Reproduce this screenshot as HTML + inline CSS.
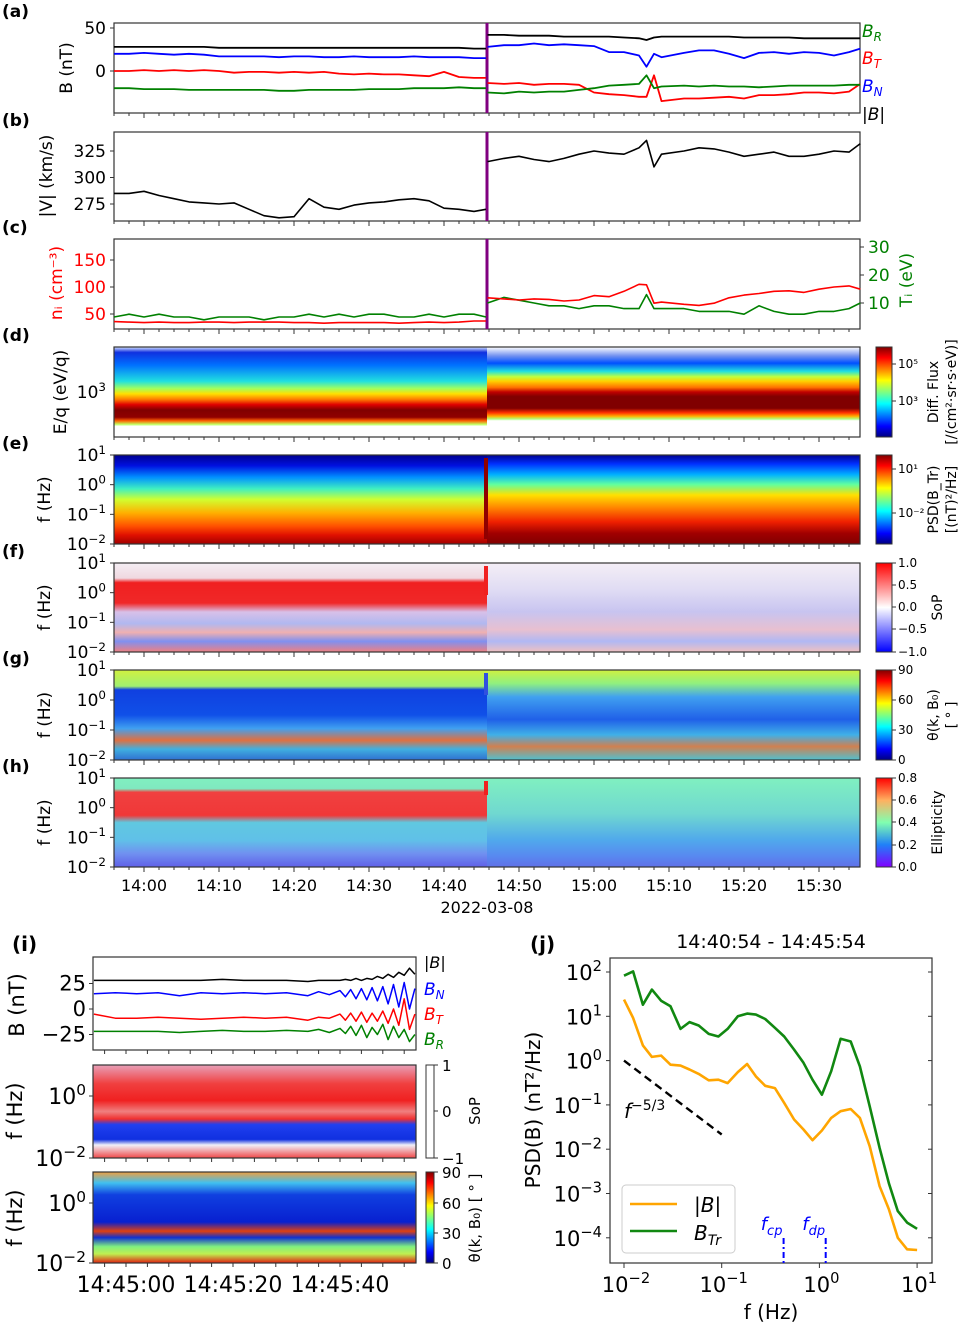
<!DOCTYPE html>
<html><head><meta charset="utf-8">
<style>
html,body{margin:0;padding:0;background:#fff;}
svg{display:block;font-family:"DejaVu Sans","Liberation Sans",sans-serif;}
</style></head>
<body>
<svg id="fig" width="968" height="1325" viewBox="0 0 968 1325" xmlns="http://www.w3.org/2000/svg">
<defs>
<linearGradient id="gDpre" x1="0" y1="0" x2="0" y2="1">
<stop offset="0" stop-color="#d8e4ff"/><stop offset="0.06" stop-color="#1030e0"/><stop offset="0.2" stop-color="#0070ff"/><stop offset="0.38" stop-color="#20e0e0"/><stop offset="0.46" stop-color="#a0ff60"/><stop offset="0.52" stop-color="#ffe000"/><stop offset="0.58" stop-color="#ff8000"/><stop offset="0.64" stop-color="#e00000"/><stop offset="0.7" stop-color="#800000"/><stop offset="0.78" stop-color="#900000"/><stop offset="0.82" stop-color="#ff6000"/><stop offset="0.86" stop-color="#c0ff60"/><stop offset="0.88" stop-color="#ffffff"/><stop offset="1" stop-color="#ffffff"/>
</linearGradient>
<linearGradient id="gDpost" x1="0" y1="0" x2="0" y2="1">
<stop offset="0" stop-color="#ffffff"/><stop offset="0.1" stop-color="#7090f0"/><stop offset="0.18" stop-color="#0050ff"/><stop offset="0.27" stop-color="#20e0e0"/><stop offset="0.33" stop-color="#c0ff40"/><stop offset="0.38" stop-color="#ffd000"/><stop offset="0.45" stop-color="#ff7000"/><stop offset="0.5" stop-color="#c00000"/><stop offset="0.55" stop-color="#800000"/><stop offset="0.68" stop-color="#800000"/><stop offset="0.73" stop-color="#ff3000"/><stop offset="0.77" stop-color="#ffb000"/><stop offset="0.8" stop-color="#b0ff80"/><stop offset="0.82" stop-color="#ffffff"/><stop offset="1" stop-color="#ffffff"/>
</linearGradient>
<linearGradient id="gEpre" x1="0" y1="0" x2="0" y2="1">
<stop offset="0" stop-color="#000090"/><stop offset="0.12" stop-color="#0010e0"/><stop offset="0.25" stop-color="#0090ff"/><stop offset="0.38" stop-color="#40f0c0"/><stop offset="0.5" stop-color="#d0ff30"/><stop offset="0.65" stop-color="#ffb000"/><stop offset="0.8" stop-color="#ff5000"/><stop offset="0.9" stop-color="#e01000"/><stop offset="1" stop-color="#a00000"/>
</linearGradient>
<linearGradient id="gEpost" x1="0" y1="0" x2="0" y2="1">
<stop offset="0" stop-color="#000090"/><stop offset="0.1" stop-color="#0030ff"/><stop offset="0.22" stop-color="#00b0ff"/><stop offset="0.33" stop-color="#60ffa0"/><stop offset="0.45" stop-color="#ffe000"/><stop offset="0.6" stop-color="#ff8000"/><stop offset="0.75" stop-color="#f02000"/><stop offset="0.88" stop-color="#a00000"/><stop offset="1" stop-color="#800000"/>
</linearGradient>
<linearGradient id="gFpre" x1="0" y1="0" x2="0" y2="1">
<stop offset="0" stop-color="#f4eef4"/><stop offset="0.17" stop-color="#f0d8e0"/><stop offset="0.22" stop-color="#f02020"/><stop offset="0.45" stop-color="#f02828"/><stop offset="0.55" stop-color="#d8c0e8"/><stop offset="0.68" stop-color="#b0b8f0"/><stop offset="0.78" stop-color="#f0b0b0"/><stop offset="0.88" stop-color="#8090f0"/><stop offset="1" stop-color="#f08080"/>
</linearGradient>
<linearGradient id="gFpost" x1="0" y1="0" x2="0" y2="1">
<stop offset="0" stop-color="#f4eef6"/><stop offset="0.3" stop-color="#e0dcf4"/><stop offset="0.55" stop-color="#c8c4f0"/><stop offset="0.75" stop-color="#e8c0d0"/><stop offset="0.88" stop-color="#b0b8f4"/><stop offset="1" stop-color="#f0c0c0"/>
</linearGradient>
<linearGradient id="gGpre" x1="0" y1="0" x2="0" y2="1">
<stop offset="0" stop-color="#d0f040"/><stop offset="0.18" stop-color="#a0f070"/><stop offset="0.22" stop-color="#1040e0"/><stop offset="0.5" stop-color="#1050e8"/><stop offset="0.65" stop-color="#40a0f0"/><stop offset="0.78" stop-color="#e07040"/><stop offset="0.88" stop-color="#40b0e0"/><stop offset="1" stop-color="#3070d0"/>
</linearGradient>
<linearGradient id="gGpost" x1="0" y1="0" x2="0" y2="1">
<stop offset="0" stop-color="#d0f040"/><stop offset="0.15" stop-color="#90f080"/><stop offset="0.3" stop-color="#40a0f0"/><stop offset="0.55" stop-color="#2060e8"/><stop offset="0.72" stop-color="#40b0e8"/><stop offset="0.85" stop-color="#d08050"/><stop offset="1" stop-color="#50c0d0"/>
</linearGradient>
<linearGradient id="gHpre" x1="0" y1="0" x2="0" y2="1">
<stop offset="0" stop-color="#80f0c0"/><stop offset="0.12" stop-color="#80e8c0"/><stop offset="0.16" stop-color="#f04040"/><stop offset="0.42" stop-color="#f03838"/><stop offset="0.5" stop-color="#60c8e0"/><stop offset="0.7" stop-color="#60c0e8"/><stop offset="0.85" stop-color="#7090f0"/><stop offset="1" stop-color="#6060e8"/>
</linearGradient>
<linearGradient id="gHpost" x1="0" y1="0" x2="0" y2="1">
<stop offset="0" stop-color="#80f0c0"/><stop offset="0.4" stop-color="#70d8d0"/><stop offset="0.7" stop-color="#50a8ec"/><stop offset="0.88" stop-color="#5888f0"/><stop offset="1" stop-color="#6070e8"/>
</linearGradient>
<linearGradient id="cbJet" x1="0" y1="1" x2="0" y2="0">
<stop offset="0" stop-color="#000080"/><stop offset="0.12" stop-color="#0000ff"/><stop offset="0.37" stop-color="#00ffff"/><stop offset="0.5" stop-color="#80ff80"/><stop offset="0.63" stop-color="#ffff00"/><stop offset="0.88" stop-color="#ff0000"/><stop offset="1" stop-color="#800000"/>
</linearGradient>
<linearGradient id="cbBwr" x1="0" y1="1" x2="0" y2="0">
<stop offset="0" stop-color="#0000ff"/><stop offset="0.5" stop-color="#ffffff"/><stop offset="1" stop-color="#ff0000"/>
</linearGradient>
<linearGradient id="cbRain" x1="0" y1="1" x2="0" y2="0">
<stop offset="0" stop-color="#8000ff"/><stop offset="0.25" stop-color="#2080f8"/><stop offset="0.5" stop-color="#80ffb0"/><stop offset="0.75" stop-color="#ffb060"/><stop offset="1" stop-color="#ff0000"/>
</linearGradient>
<linearGradient id="gIsop" x1="0" y1="0" x2="0" y2="1">
<stop offset="0" stop-color="#e8a0b8"/><stop offset="0.2" stop-color="#f04040"/><stop offset="0.38" stop-color="#f02020"/><stop offset="0.5" stop-color="#f08080"/><stop offset="0.58" stop-color="#f03030"/><stop offset="0.64" stop-color="#2040f0"/><stop offset="0.8" stop-color="#1030e0"/><stop offset="0.86" stop-color="#f0f0f8"/><stop offset="1" stop-color="#f04848"/>
</linearGradient>
<linearGradient id="gIth" x1="0" y1="0" x2="0" y2="1">
<stop offset="0" stop-color="#f0a040"/><stop offset="0.12" stop-color="#40c0f0"/><stop offset="0.25" stop-color="#1040e0"/><stop offset="0.55" stop-color="#0820d0"/><stop offset="0.65" stop-color="#e04010"/><stop offset="0.72" stop-color="#1030d0"/><stop offset="0.82" stop-color="#80f080"/><stop offset="0.9" stop-color="#c0f050"/><stop offset="1" stop-color="#e02010"/>
</linearGradient>
</defs>
<g id="layer"></g>
</svg>
<script>
// ---------- data (minutes after 13:56) ----------
const tPre = [0,2,4,6,8,10,12,14,16,18,20,22,24,26,28,30,32,34,36,38,40,42,44,46,48,49.6];
const tPost = [49.8,52,54,56,58,60,62,64,66,68,70,71,72,73,76,78,80,82,84,86,88,90,92,94,96,98,99.5];
const absBPre = [28,28,28,28,28,28,28,27,27,27,27,27,27,27,27,27,27,27,27,27,27,27,27,27,26,26];
const absBPost = [42,42,41,41,41,40,40,40,40,39,38,36,39,40,40,40,40,40,39,39,39,39,38,38,38,38,38];
const bnPre = [20,20,21,20,19,20,19,17,17,17,17,16,17,17,16,16,17,16,16,16,17,16,16,16,15,15];
const bnPost = [28,30,30,32,30,31,30,29,22,22,18,5,20,16,21,24,24,20,15,21,22,20,22,21,18,22,26];
const btPre = [0,0,1,0,1,0,1,0,-2,-1,-1,-2,-1,-2,-1,-3,-4,-3,-4,-4,-5,-6,-1,-7,-8,-8];
const btPost = [-14,-15,-14,-16,-15,-15,-16,-25,-27,-28,-30,-30,-5,-35,-32,-32,-31,-30,-32,-28,-28,-27,-25,-25,-26,-24,-15];
const brPre = [-20,-20,-21,-21,-21,-22,-22,-22,-22,-22,-22,-23,-23,-22,-22,-22,-22,-21,-21,-21,-20,-20,-20,-19,-20,-20];
const brPost = [-25,-26,-24,-25,-24,-24,-22,-20,-17,-16,-15,-5,-20,-18,-17,-18,-17,-18,-18,-19,-18,-17,-17,-17,-17,-16,-16];
const vPre = [285,285,287,283,280,277,276,275,276,270,264,262,263,280,272,270,274,276,277,279,280,278,271,270,268,270];
const vPost = [315,318,320,317,315,318,322,325,323,322,328,335,310,322,325,328,327,324,320,322,324,320,320,322,325,324,332];
const nPre = [36,35,34,35,34,34,35,35,34,35,35,35,34,34,33,34,34,34,34,33,34,35,34,35,37,37];
const nPost = [80,78,76,78,77,74,76,84,82,92,105,104,70,72,68,66,70,80,85,88,92,93,90,96,100,102,96];
const tiPre = [5,6,5,6,5,5,4,5,5,5,4,5,5,6,5,6,5,6,6,5,5,6,5,6,6,5];
const tiPost = [10,12,11,10,9,9,8,9,9,8,8,13,8,8,8,7,7,7,6,9,7,6,6,7,7,8,10];

// panel (i): seconds after 14:45:00
const tI = [-6,-2,2,6,10,14,18,22,26,30,34,36,38,40,41,42,43,44,45,46,47,48,49,50,51,52,53,54];
const iAbsB = [28,28,28,28,28,28,29,28,28,28,27,28,28,28,29,28,30,28,30,29,32,30,34,31,36,33,40,34];
const iBN = [15,16,15,16,13,16,15,16,15,16,13,17,14,18,12,19,10,20,9,21,8,22,5,24,2,26,0,20];
const iBT = [-5,-9,-9,-8,-9,-10,-9,-8,-9,-8,-11,-8,-9,-5,-11,-4,-12,-3,-13,-4,-12,-2,-14,0,-16,10,-20,-5];
const iBR = [-22,-22,-22,-22,-23,-22,-21,-22,-22,-21,-22,-20,-23,-19,-24,-17,-26,-16,-28,-18,-25,-15,-30,-17,-28,-20,-32,-25];

// panel (j): spectra
const jFreq = [0.01,0.0124,0.0156,0.0193,0.024,0.0299,0.0379,0.0468,0.0582,0.0736,0.0925,0.115,0.146,0.182,0.224,0.279,0.35,0.436,0.551,0.687,0.849,1.06,1.32,1.65,2.09,2.6,3.27,4.13,5.14,6.35,7.9,10];
const jBtr = [82.6,103,18.3,40,22.5,16.8,5.2,7.4,6.2,4.0,3.5,5.2,10,11.5,10.9,8.7,5.5,3.5,1.77,0.89,0.37,0.17,0.575,3.1,2.7,0.74,0.093,0.0107,0.0017,4.0e-4,2.2e-4,1.6e-4];
const jAbsB = [23.8,9.2,2.2,1.21,1.3,0.81,0.77,0.63,0.5,0.36,0.37,0.31,0.55,0.84,0.44,0.27,0.24,0.111,0.0467,0.0278,0.016,0.0264,0.051,0.072,0.081,0.051,0.0117,0.00146,4.4e-4,1.0e-4,5.5e-5,5.3e-5];
const jSlopeF = [0.01,0.1];
const jSlopeP = [1.0,0.0215];
const jMarkF = [0.43,1.16];
const jMarkLabels = ['cp','dp'];

const timeTicks = ['14:00','14:10','14:20','14:30','14:40','14:50','15:00','15:10','15:20','15:30'];
const iTicks = ['14:45:00','14:45:20','14:45:40'];
const iTickSec = [0,20,40];

// ---------- helpers ----------
const NS='http://www.w3.org/2000/svg';
const root=document.getElementById('layer');
function el(tag,parent){const e=document.createElementNS(NS,tag);(parent||root).appendChild(e);return e;}
function set(e,k,v){e.setAttribute(k,v);return e;}
function txt(x,y,s,size,anchor,color,parent){
  const t=el('text',parent);set(t,'x',x);set(t,'y',y);set(t,'font-size',size);
  set(t,'text-anchor',anchor||'start');set(t,'fill',color||'#000');t.textContent=s;return t;}
function pow10(x,y,exp,size,anchor,color){
  const t=el('text');set(t,'x',x);set(t,'y',y);set(t,'font-size',size);set(t,'text-anchor',anchor||'end');set(t,'fill',color||'#000');
  const a=el('tspan',t);a.textContent='10';
  const b=el('tspan',t);set(b,'dy',-size*0.42);set(b,'font-size',size*0.7);b.textContent=exp;
  return t;}
function poly(xs,ys,color,w,parent){
  const p=el('polyline',parent);set(p,'points',xs.map((x,i)=>x.toFixed(1)+','+ys[i].toFixed(1)).join(' '));
  set(p,'fill','none');set(p,'stroke',color);set(p,'stroke-width',w||1.3);set(p,'stroke-linejoin','round');return p;}
function frame(x0,y0,x1,y1){const r=el('rect');set(r,'x',x0);set(r,'y',y0);set(r,'width',x1-x0);set(r,'height',y1-y0);
  set(r,'fill','none');set(r,'stroke','#333');set(r,'stroke-width',1.2);return r;}
function rect(x,y,w,h,fill){const r=el('rect');set(r,'x',x);set(r,'y',y);set(r,'width',w);set(r,'height',h);set(r,'fill',fill);return r;}
function tick(x1,y1,x2,y2,parent){const l=el('line',parent);set(l,'x1',x1);set(l,'y1',y1);set(l,'x2',x2);set(l,'y2',y2);set(l,'stroke','#333');set(l,'stroke-width',1);return l;}

// ---------- axes mappings ----------
const L=114,R=860,SH=487;
const xT=m=>L+m*7.5;
const yA=v=>71-v*0.86;
const yB=v=>177.5-(v-300)*1.06;
const yN=v=>287-(v-100)*0.54;
const yTi=v=>303-(v-10)*2.8;

const panels=[['a',23,113],['b',132,221],['c',239,329],['d',347,437],['e',455,544],['f',563,652],['g',670,760],['h',778,867]];

const specs=[['d',347,437,'D'],['e',455,544,'E'],['f',563,652,'F'],['g',670,760,'G'],['h',778,867,'H']];
specs.forEach(s=>{
  const a=rect(L,s[1],SH-L,s[2]-s[1],'url(#g'+s[3]+'pre)');
  
  
  const b=rect(SH,s[1],R-SH,s[2]-s[1],'url(#g'+s[3]+'post)');
  
  
});
[[455,544,'#900000'],[563,600,'#f02020'],[670,700,'#3050e0'],[778,800,'#f02020']].forEach(s=>{
  const r=rect(484,s[0]+3,4,s[1]-s[0]-8,s[2]);
  
  
});

panels.forEach(p=>{
  const f=frame(L,p[1],R,p[2]);
  
  
  for(let m=0;m<=98;m+=2){
    const major=((m-4)%10===0);
    const t=tick(xT(m),p[2],xT(m),p[2]+(major?5:3));
    
    
  }
  const lab=txt(2,p[1]-6,'('+p[0]+')',17,'start');
  set(lab,'font-weight','bold');
  
  
});
timeTicks.forEach((s,i)=>{
  const t=txt(xT(4+i*10),891,s,16,'middle');
  
  
});
const dl=txt(487,913,'2022-03-08',16,'middle');



[[23,113],[132,221],[239,329]].forEach(r=>{
  const l=el('line');set(l,'x1',SH);set(l,'x2',SH);set(l,'y1',r[0]);set(l,'y2',r[1]);set(l,'stroke','#800080');set(l,'stroke-width',3);
  
  
});

// ---- panel a ----
[[50,'50'],[0,'0']].forEach(v=>{
  const t=txt(106,yA(v[0])+6,v[1],17,'end');
  
  
  tick(L-4,yA(v[0]),L,yA(v[0]));
});
const series=[[absBPre,absBPost,'#000','absB'],[bnPre,bnPost,'#0000ff','BN'],[btPre,btPost,'#ff0000','BT'],[brPre,brPost,'#008000','BR']];
series.forEach(s=>{
  const a=poly(tPre.map(xT),s[0].map(yA),s[2],1.8);
  
  
  const b=poly(tPost.map(xT),s[1].map(yA),s[2],1.8);
  
  
});
function subLab(x,y,main,sub,color,name){
  const t=el('text');set(t,'x',x);set(t,'y',y);set(t,'font-size',17);set(t,'fill',color);set(t,'font-style','italic');
  const a=el('tspan',t);a.textContent=main;const b=el('tspan',t);set(b,'dy',4);set(b,'font-size',12);b.textContent=sub;
  
  
  return t;}
subLab(862,37,'B','R','#008000','legend-br');
subLab(862,64,'B','T','#ff0000','legend-bt');
subLab(862,92,'B','N','#0000ff','legend-bn');
const lb=txt(862,120,'|B|',17,'start');set(lb,'font-style','italic');


function rotLab(x,y,s,size,color,name){
  const t=txt(0,0,s,size,'middle',color);set(t,'transform','translate('+x+','+y+') rotate(-90)');
  
  
  return t;}
rotLab(72,68,'B (nT)',17,'#000','y-axis-title-a');

// ---- panel b ----
[[325,'325'],[300,'300'],[275,'275']].forEach(v=>{
  const t=txt(106,yB(v[0])+6,v[1],17,'end');
  
  
  tick(L-4,yB(v[0]),L,yB(v[0]));
});
const vp=poly(tPre.map(xT),vPre.map(yB),'#000',1.6);


const vq=poly(tPost.map(xT),vPost.map(yB),'#000',1.6);


rotLab(52,176,'|V| (km/s)',17,'#000','y-axis-title-b');

// ---- panel c ----
[[150,'150'],[100,'100'],[50,'50']].forEach(v=>{
  const t=txt(106,yN(v[0])+6,v[1],17,'end','#ff0000');
  
  
  tick(L-4,yN(v[0]),L,yN(v[0]));
});
[[30,'30'],[20,'20'],[10,'10']].forEach(v=>{
  const t=txt(868,yTi(v[0])+6,v[1],17,'start','#008000');
  
  
  tick(R,yTi(v[0]),R+4,yTi(v[0]));
});
[[tiPre,tiPost,'#008000','ti'],[nPre,nPost,'#ff0000','n']].forEach(s=>{
  const f=s[3]==='ti'?yTi:yN;
  const a=poly(tPre.map(xT),s[0].map(f),s[2],1.6);
  
  
  const b=poly(tPost.map(xT),s[1].map(f),s[2],1.6);
  
  
});
rotLab(62,283,'nᵢ (cm⁻³)',17,'#ff0000','y-axis-title-c-left');
rotLab(912,280,'Tᵢ (eV)',17,'#008000','y-axis-title-c-right');

// ---- panel d ----
const dt=pow10(106,398,'3',17,'end');


rotLab(66,392,'E/q (eV/q)',17,'#000','y-axis-title-d');

// ---- panels e-h ----
[['e',455,544],['f',563,652],['g',670,760],['h',778,867]].forEach(p=>{
  const step=(p[2]-p[1])/3;
  ['1','0','−1','−2'].forEach((e,i)=>{
    const t=pow10(106,p[1]+i*step+6,e,17,'end');
    
    
    tick(L-4,p[1]+i*step,L,p[1]+i*step);
  });
  rotLab(50,(p[1]+p[2])/2,'f (Hz)',17,'#000','y-axis-title-'+p[0]);
});

// ---- colorbars ----
const cbs=[['d',347,437,'cbJet',[['10⁵',364],['10³',401]],['Diff. Flux','[/(cm²·sr·s·eV)]']],
  ['e',455,544,'cbJet',[['10¹',469],['10⁻²',513]],['PSD(B_Tr)','[(nT)²/Hz]']],
  ['f',563,652,'cbBwr',[['1.0',563],['0.5',585],['0.0',607],['−0.5',629],['−1.0',652]],['SoP']],
  ['g',670,760,'cbJet',[['90',670],['60',700],['30',730],['0',760]],['θ(k, B₀)','[ ° ]']],
  ['h',778,867,'cbRain',[['0.8',778],['0.6',800],['0.4',822],['0.2',845],['0.0',867]],['Ellipticity']]];
cbs.forEach(c=>{
  const r=rect(876,c[1],16,c[2]-c[1],'url(#'+c[3]+')');set(r,'stroke','#333');
  
  
  c[4].forEach(l=>{
    tick(892,l[1],896,l[1]);
    const t=txt(898,l[1]+4,l[0],12,'start');
    
    
  });
  const mid=(c[1]+c[2])/2;
  if(c[5].length===2){
    rotLab(938,mid,c[5][0],14,'#000','colorbar-title-'+c[0]);
    rotLab(956,mid,c[5][1],14,'#000','colorbar-units-'+c[0]);
  } else rotLab(942,mid,c[5][0],14,'#000','colorbar-title-'+c[0]);
});

// ---------- panel (i) ----------
const IL=93,IR=416;
const xI=s=>126+s*5.35;
const yIb=v=>1009-v*1.02;
const il=txt(12,951,'(i)',20,'start');set(il,'font-weight','bold');


const fr1=frame(IL,957,IR,1050);


[[25,'25'],[0,'0'],[-25,'−25']].forEach(v=>{
  const t=txt(86,yIb(v[0])+7,v[1],21,'end');
  
  
  tick(IL-4,yIb(v[0]),IL,yIb(v[0]));
});
[[iAbsB,'#000','absB'],[iBN,'#0000ff','BN'],[iBT,'#ff0000','BT'],[iBR,'#008000','BR']].forEach(s=>{
  const p=poly(tI.map(xI),s[0].map(yIb),s[1],1.5);
  
  
});
const il2=txt(424,968,'|B|',16,'start');set(il2,'font-style','italic');


subLab(424,995,'B','N','#0000ff','legend-i-bn');
subLab(424,1020,'B','T','#ff0000','legend-i-bt');
subLab(424,1045,'B','R','#008000','legend-i-br');
rotLab(24,1005,'B (nT)',21,'#000','y-axis-title-i');

const sp=rect(IL,1065,IR-IL,93,'url(#gIsop)');


const fr2=frame(IL,1065,IR,1158);


const th=rect(IL,1172,IR-IL,91,'url(#gIth)');


const fr3=frame(IL,1172,IR,1263);


[[1096,'0'],[1158,'−2'],[1203,'0'],[1263,'−2']].forEach(v=>{
  const t=pow10(86,v[0]+8,v[1],22,'end');
  
  
  tick(IL-4,v[0],IL,v[0]);
});
rotLab(22,1111,'f (Hz)',21,'#000','y-axis-title-i-sop');
rotLab(22,1218,'f (Hz)',21,'#000','y-axis-title-i-theta');
const c1=rect(426,1065,8,93,'#fff');set(c1,'stroke','#333');


[['1',1065],['0',1111],['−1',1158]].forEach(l=>{tick(434,l[1],438,l[1]);
  const t=txt(442,l[1]+6,l[0],15,'start');
  
  });
rotLab(480,1111,'SoP',15,'#000','colorbar-i-sop-title');
const c2=rect(426,1172,8,91,'url(#cbJet)');set(c2,'stroke','#333');


[['90',1172],['60',1203],['30',1233],['0',1263]].forEach(l=>{tick(434,l[1],438,l[1]);
  const t=txt(442,l[1]+6,l[0],15,'start');
  
  });
rotLab(480,1218,'θ(k, B₀) [ ° ]',15,'#000','colorbar-i-theta-title');
iTicks.forEach((s,i)=>{
  const t=txt(xI(iTickSec[i]),1292,s,22,'middle');
  
  
});
for(let s=-4;s<=54;s+=4){[1050,1158,1263].forEach(y=>{
  const t=tick(xI(s),y,xI(s),y+4);
  
  
});}

// ---------- panel (j) ----------
const JL=610,JR=932,JT=958,JB=1263;
const xJ=f=>624+(Math.log10(f)+2)*97.7;
const yJ=p=>972-(Math.log10(p)-2)*44.3;
const jl=txt(530,951,'(j)',20,'start');set(jl,'font-weight','bold');


const jt=txt(771,948,'14:40:54 - 14:45:54',19,'middle');


const jf=frame(JL,JT,JR,JB);


['2','1','0','−1','−2','−3','−4'].forEach((e,i)=>{
  const p=Math.pow(10,2-i);
  const t=pow10(602,yJ(p)+8,e,21,'end');
  
  
  tick(JL-4,yJ(p),JL,yJ(p));tick(JR-4,yJ(p),JR,yJ(p));
});
['−2','−1','0','1'].forEach((e,i)=>{
  const f=Math.pow(10,i-2);
  const t=pow10(xJ(f)+2,1292,e,21,'middle');
  
  
  tick(xJ(f),JB,xJ(f),JB+5);
});
rotLab(540,1110,'PSD(B) (nT²/Hz)',20,'#000','y-axis-title-j');
const jx=txt(771,1319,'f (Hz)',20,'middle');


const g1=poly(jFreq.map(xJ),jBtr.map(yJ),'#118811',2.6);


const g2=poly(jFreq.map(xJ),jAbsB.map(yJ),'#ffa500',2.6);


const sl=poly(jSlopeF.map(xJ),jSlopeP.map(yJ),'#000',2.4);set(sl,'stroke-dasharray','8,5');


const st=el('text');set(st,'x',624);set(st,'y',1118);set(st,'font-size',20);set(st,'font-style','italic');
const s1=el('tspan',st);s1.textContent='f';const s2=el('tspan',st);set(s2,'dy',-8);set(s2,'font-size',14);set(s2,'font-style','normal');s2.textContent='−5/3';


jMarkF.forEach((f,i)=>{
  const l=el('line');set(l,'x1',xJ(f));set(l,'x2',xJ(f));set(l,'y1',1238);set(l,'y2',JB);set(l,'stroke','#0000ff');set(l,'stroke-width',2);set(l,'stroke-dasharray','6,3,2,3');
  
  
  const t=el('text');set(t,'x',xJ(f)-12);set(t,'y',1230);set(t,'font-size',18);set(t,'fill','#0000ff');set(t,'font-style','italic');set(t,'text-anchor','middle');
  const a=el('tspan',t);a.textContent='f';const b=el('tspan',t);set(b,'dy',5);set(b,'font-size',13);b.textContent=jMarkLabels[i];
  
  
});
const lg=el('rect');set(lg,'x',622);set(lg,'y',1185);set(lg,'width',113);set(lg,'height',68);set(lg,'rx',4);set(lg,'fill','#fff');set(lg,'fill-opacity',0.85);set(lg,'stroke','#ccc');


const l1=poly([630,677],[1204,1204],'#ffa500',2.6);


const l2=poly([630,677],[1231,1231],'#118811',2.6);


const lt1=txt(694,1212,'|B|',20,'start');set(lt1,'font-style','italic');


const lt2=el('text');set(lt2,'x',694);set(lt2,'y',1240);set(lt2,'font-size',20);set(lt2,'font-style','italic');
const q1=el('tspan',lt2);q1.textContent='B';const q2=el('tspan',lt2);set(q2,'dy',5);set(q2,'font-size',14);q2.textContent='Tr';


</script>
</body></html>
